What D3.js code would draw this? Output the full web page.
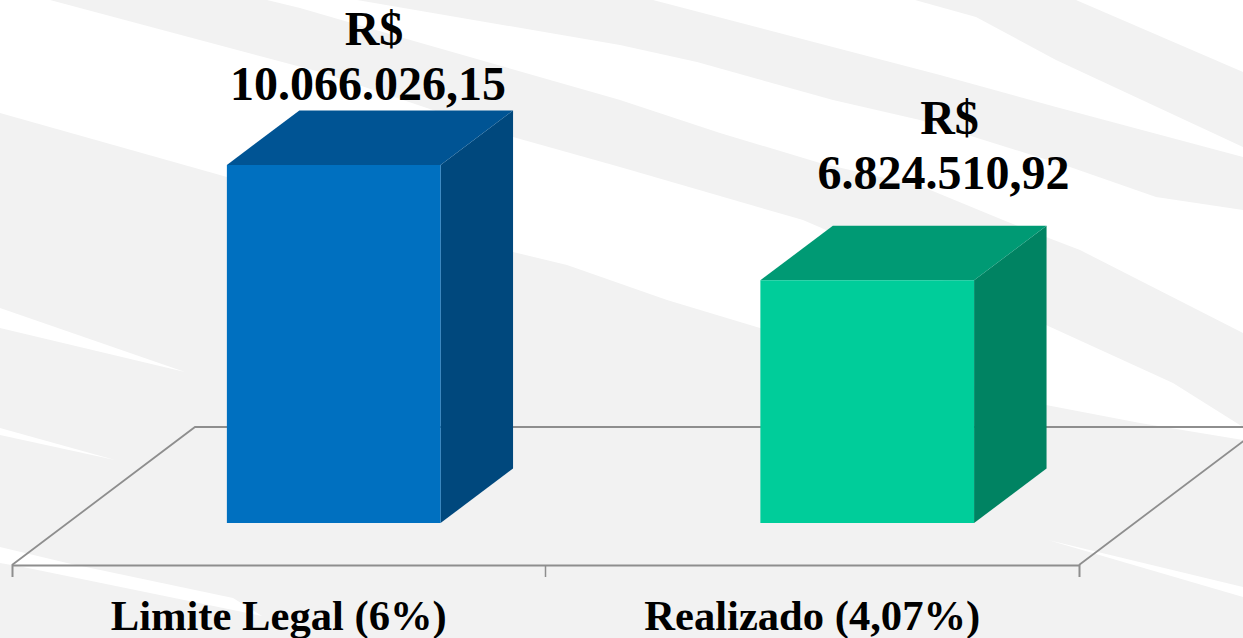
<!DOCTYPE html>
<html>
<head>
<meta charset="utf-8">
<script src="https://cdn.jsdelivr.net/npm/d3@7"></script>
<style>
  html, body { margin: 0; padding: 0; background: #f2f2f2; overflow: hidden; }
  svg { display: block; }
  text { font-family: "Liberation Serif", serif; font-weight: bold; fill: #000; }
</style>
</head>
<body>
<div id="chart"></div>
<script>
var categories = ["Limite Legal (6%)", "Realizado (4,07%)"];
var values = [10066026.15, 6824510.92];
var frontColors = ["#0070c0", "#00cd9a"];
var topColors = ["#005494", "#009a74"];
var sideColors = ["#00487d", "#008362"];

// the labels were moved by hand in the original, so they don't sit evenly over the bars
var labelNudgeX = [-2, 40];
var labelGap = [65, 92];

var width = 1243, height = 638;

// white swooshes of the slide background
var swooshes = [
  [[0,0],[50,0],[320,72],[513,137],[620,167],[803,220],[1046,325],[1173,383],[1243,427],[1243,440],[1140,423],[1046,405],[760,328],[667,300],[567,265],[513,252],[227,177],[0,113]],
  [[267,0],[357,0],[620,45],[697,62],[833,100],[920,120],[1070,167],[1156,197],[1243,210],[1243,333],[1080,250],[1046,237],[1003,220],[923,187],[820,163],[720,133],[620,100],[400,37],[300,8]],
  [[653,0],[915,0],[976,17],[1056,60],[1243,147],[1243,157],[1056,107],[940,75]],
  [[1076,0],[1243,0],[1243,72]],
  [[0,308],[185,372],[0,328]],
  [[0,428],[115,460],[0,435]],
  [[0,547],[67,563],[233,598],[262,616],[233,610],[23,567],[0,563]],
  [[1048,540],[1243,587],[1243,597]]
];

var svg = d3.select("#chart").append("svg")
    .attr("width", width)
    .attr("height", height);

var outline = d3.line().curve(d3.curveLinear);

svg.append("g").selectAll("path")
    .data(swooshes)
    .enter().append("path")
    .attr("d", function(d) { return outline(d) + "Z"; })
    .attr("fill", "#fff");

// floor is a parallelogram, z goes 0 (front edge) to 1 (back edge)
var floorY = 565, floorDx = 183, floorDy = -138;
var barZ0 = 0.304, barZ1 = 0.70;

var x = d3.scaleBand()
    .domain(categories)
    .range([12, 1079]);

var barWidth = 213.7;

var barHeight = d3.scaleLinear()
    .domain([0, d3.max(values)])
    .range([0, 358]);

function px(xv, z) { return xv + z * floorDx; }
function py(h, z) { return floorY + z * floorDy - h; }

function poly(points) {
  return outline(points.map(function(p) { return [px(p[0], p[1]), py(p[2], p[1])]; })) + "Z";
}

// floor
var xLeft = x.range()[0], xRight = x.range()[1];
svg.append("path")
    .attr("d", outline([
      [px(xLeft, 0), py(0, 0)],
      [px(xLeft, 1), py(0, 1)],
      [px(xRight, 1), py(0, 1)],
      [px(xRight, 0), py(0, 0)]
    ]))
    .attr("fill", "none")
    .attr("stroke", "#8e8e8e")
    .attr("stroke-width", 1.8);

// axis, outer ticks give the two end marks
var axis = svg.append("g")
    .attr("transform", "translate(0," + floorY + ")")
    .call(d3.axisBottom(x).tickSizeInner(0).tickSizeOuter(12).tickPadding(35));

axis.select(".domain")
    .attr("stroke", "#8e8e8e")
    .attr("stroke-width", 2);

axis.selectAll(".tick text")
    .attr("font-size", 42.6)
    .attr("font-family", "Liberation Serif")
    .attr("y", 0)
    .attr("dy", 0)
    .attr("transform", "translate(0,65)");

// middle tick between the two bands
axis.append("line")
    .attr("x1", x(categories[1]))
    .attr("x2", x(categories[1]))
    .attr("y1", 0)
    .attr("y2", 12)
    .attr("stroke", "#8e8e8e")
    .attr("stroke-width", 1.5);

var bars = svg.selectAll(".bar")
    .data(values)
    .enter().append("g")
    .attr("class", "bar");

function left(i) { return x(categories[i]) + (x.bandwidth() - 214) / 2 - 0.5; }

bars.append("path")
    .attr("d", function(d, i) {
      var l = left(i), r = l + barWidth, h = barHeight(d);
      return poly([[r, barZ0, 0], [r, barZ1, 0], [r, barZ1, h], [r, barZ0, h]]);
    })
    .attr("fill", function(d, i) { return sideColors[i]; });

bars.append("path")
    .attr("d", function(d, i) {
      var l = left(i), r = l + barWidth, h = barHeight(d);
      return poly([[l, barZ0, h], [l, barZ1, h], [r, barZ1, h], [r, barZ0, h]]);
    })
    .attr("fill", function(d, i) { return topColors[i]; });

bars.append("path")
    .attr("d", function(d, i) {
      var l = left(i), r = l + barWidth, h = barHeight(d);
      return poly([[l, barZ0, 0], [l, barZ0, h], [r, barZ0, h], [r, barZ0, 0]]);
    })
    .attr("fill", function(d, i) { return frontColors[i]; });

var brl = d3.formatLocale({decimal: ",", thousands: ".", grouping: [3], currency: ["R$", ""]}).format(",.2f");

var labels = bars.append("text")
    .attr("text-anchor", "middle")
    .attr("font-size", 48)
    .attr("transform", function(d, i) {
      var cx = px(left(i) + barWidth / 2, (barZ0 + barZ1) / 2);
      return "translate(" + (cx + labelNudgeX[i]) + "," + (py(barHeight(d), barZ1) - labelGap[i]) + ")";
    });

labels.append("tspan")
    .attr("x", 6)
    .attr("y", 0)
    .text("R$");

labels.append("tspan")
    .attr("x", 0)
    .attr("y", 55)
    .text(function(d) { return brl(d); });
</script>
</body>
</html>
